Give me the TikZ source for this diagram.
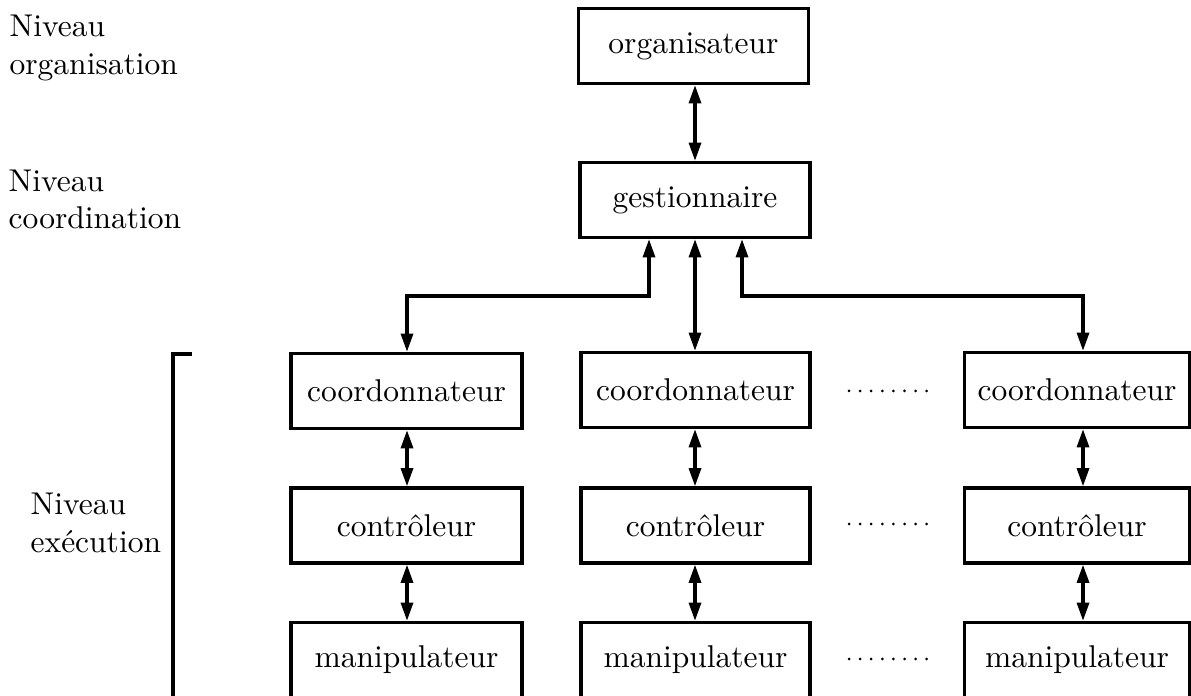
\documentclass[tikz,border=0pt]{standalone}
\usetikzlibrary{arrows.meta,calc}
\def\pxunit{0.3174pt}
\begin{document}
\begin{tikzpicture}[x=0.3174pt,y=-0.3174pt,
  box/.style={draw,line width=1.05pt,inner sep=0pt,minimum height=75*\pxunit,minimum width=230*\pxunit},
  link/.style={line width=1.05pt,{Triangle[length=5.8pt,width=3.8pt]}-{Triangle[length=5.8pt,width=3.8pt]}},
  lvl/.style={anchor=base west,inner sep=0pt},
  dot/.style={fill=black}]
\useasboundingbox (0,0) rectangle (1191,696);

% level labels
\node[lvl] (l1a) at (9,37) {Niveau};
\node[lvl] (l1b) at (9,75) {organisation};
\node[lvl] (l2a) at (8,192) {Niveau};
\node[lvl] (l2b) at (8,229) {coordination};
\node[lvl] (l3a) at (30,515) {Niveau};
\node[lvl] (l3b) at (30,553) {exécution};
\draw[line width=1.05pt] (192,354) -- (173,354) -- (173,700);

% upper levels
\node[box] (org) at (693.5,46) {organisateur};
\node[box] (ges) at (695,200) {gestionnaire};

% execution columns
\node[box,minimum width=231*\pxunit] (c11) at (406.5,391) {coordonnateur};
\node[box,minimum width=231*\pxunit] (c12) at (406.5,525.5) {contrôleur};
\node[box,minimum width=231*\pxunit] (c13) at (406.5,660) {manipulateur};
\node[box,minimum width=229*\pxunit] (c21) at (695.5,390) {coordonnateur};
\node[box,minimum width=229*\pxunit] (c22) at (695.5,525.5) {contrôleur};
\node[box,minimum width=229*\pxunit] (c23) at (695.5,660) {manipulateur};
\node[box,minimum width=225*\pxunit] (c31) at (1077,390) {coordonnateur};
\node[box,minimum width=225*\pxunit] (c32) at (1077,525.5) {contrôleur};
\node[box,minimum width=225*\pxunit] (c33) at (1077,660) {manipulateur};

% column axes and distribution bus
\coordinate (x1) at (407,296);
\coordinate (x2) at (695,296);
\coordinate (x3) at (1083,296);

% connectors
\draw[link] (ges.north |- org.south) -- (ges.north);
\draw[link] ($(ges.south)+(-46,0)$) |- (x1) -- (x1 |- c11.north);
\draw[link] (ges.south) -- (ges.south |- c21.north);
\draw[link] ($(ges.south)+(47,0)$) |- (x3) -- (x3 |- c31.north);
\foreach \c in {1,2,3}{
  \draw[link] (x\c |- c\c1.south) -- (x\c |- c\c2.north);
  \draw[link] (x\c |- c\c2.south) -- (x\c |- c\c3.north);
}

% elision dots between columns
\foreach \y in {391,524,659}
  \foreach \i in {0,...,7}
    \fill[dot] (849+\i*11.1,\y) circle (1.5);
\end{tikzpicture}
\end{document}
